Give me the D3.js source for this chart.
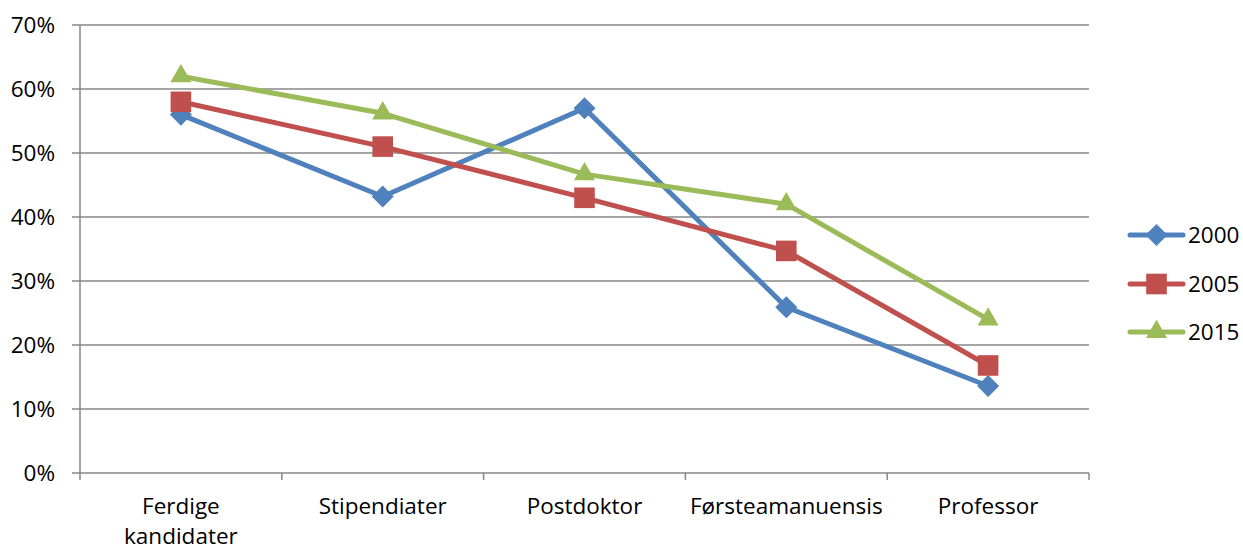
<!DOCTYPE html>
<html><head><meta charset="utf-8">
<script src="https://cdn.jsdelivr.net/npm/d3@7"></script>
<style>body{margin:0;background:#fff;} text{font-family:"Open Sans",sans-serif;fill:#000;}</style>
</head><body><svg id="c" width="1243" height="550"></svg>
<script>
const categories = [["Ferdige","kandidater"],["Stipendiater"],["Postdoktor"],["Førsteamanuensis"],["Professor"]];
const seriesNames = ["2000","2005","2015"];
const values2000 = [0.56, 0.432, 0.57, 0.259, 0.136];
const values2005 = [0.58, 0.51, 0.43, 0.347, 0.168];
const values2015 = [0.62, 0.562, 0.467, 0.42, 0.24];
const yTicks = [0,0.1,0.2,0.3,0.4,0.5,0.6,0.7];
const colors = ["#4F81BD","#C0504D","#9BBB59"];
const symbols = [d3.symbolDiamond2, d3.symbolSquare2, d3.symbolTriangle2];

(function(){
const svg = d3.select("#c");
const pLeft=80, pRight=1089, pTop=25, pBottom=473;
const fs = 22.5;
const x = d3.scaleBand().domain(d3.range(categories.length)).range([pLeft,pRight]);
const y = d3.scaleLinear().domain([0,0.7]).range([pBottom,pTop]);

svg.append("g").selectAll("line").data(yTicks).join("line")
  .attr("x1",72).attr("x2",pRight).attr("y1",d=>y(d)).attr("y2",d=>y(d))
  .attr("stroke","#878787").attr("stroke-width",1.5);
svg.append("line").attr("x1",pLeft).attr("x2",pLeft).attr("y1",pTop).attr("y2",pBottom+7)
  .attr("stroke","#878787").attr("stroke-width",1.5);
const bounds = d3.range(categories.length+1).map(i=>pLeft + i*x.step());
svg.append("g").selectAll("line").data(bounds.slice(1)).join("line")
  .attr("x1",d=>d).attr("x2",d=>d).attr("y1",pBottom).attr("y2",pBottom+7)
  .attr("stroke","#878787").attr("stroke-width",1.5);
svg.append("g").selectAll("text").data(yTicks).join("text")
  .attr("x",55).attr("y",d=>y(d)).attr("dy","0.36em").attr("text-anchor","end")
  .attr("font-size",fs).text(d=>Math.round(d*100)+"%");
const xl = svg.append("g").selectAll("text").data(categories).join("text")
  .attr("x",(d,i)=>x(i)+x.bandwidth()/2).attr("y",514).attr("text-anchor","middle").attr("font-size",fs);
xl.selectAll("tspan").data(d=>d).join("tspan")
  .attr("x",function(){return this.parentNode.getAttribute("x");})
  .attr("dy",(d,i)=>i===0?0:30).text(d=>d);

const all = [values2000, values2005, values2015];
const line = d3.line().x((d,i)=>x(i)+x.bandwidth()/2).y(d=>y(d));
all.forEach((vals,s)=>{
  svg.append("path").attr("d",line(vals)).attr("fill","none")
    .attr("stroke",colors[s]).attr("stroke-width",5).attr("stroke-linejoin","round");
});
const sizes=[310,540,320];
all.forEach((vals,s)=>{
  svg.append("g").selectAll("path").data(vals).join("path")
    .attr("transform",(d,i)=>`translate(${x(i)+x.bandwidth()/2},${y(d)})`)
    .attr("d",d3.symbol().type(symbols[s]).size(sizes[s])).attr("fill",colors[s]);
});
const ly=[235,284,332];
seriesNames.forEach((n,s)=>{
  const g=svg.append("g");
  g.append("line").attr("x1",1130).attr("x2",1183).attr("y1",ly[s]).attr("y2",ly[s])
   .attr("stroke",colors[s]).attr("stroke-width",5).attr("stroke-linecap","round");
  g.append("path").attr("transform",`translate(1156.5,${ly[s]})`)
   .attr("d",d3.symbol().type(symbols[s]).size(sizes[s])).attr("fill",colors[s]);
  g.append("text").attr("x",1188).attr("y",ly[s]).attr("dy","0.36em").attr("font-size",fs).text(n);
});
})();
</script></body></html>
